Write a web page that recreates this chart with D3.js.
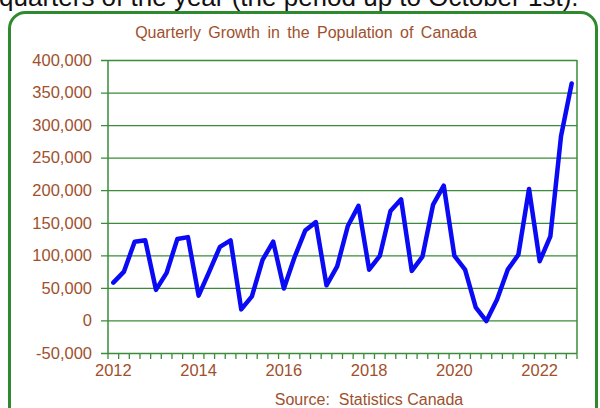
<!DOCTYPE html>
<html>
<head>
<meta charset="utf-8">
<script src="https://cdn.jsdelivr.net/npm/d3@7"></script>
<style>
  body { margin: 0; background: #fff; }
  svg { display: block; font-family: Arial, "Liberation Sans", sans-serif; }
</style>
</head>
<body>
<div id="chart"></div>
<script>
// quarterly population growth, Canada
var years = [2012, 2013, 2014, 2015, 2016, 2017, 2018, 2019, 2020, 2021, 2022];
var quarters = ["Q1", "Q2", "Q3", "Q4"];
var growth = [
  58000, 75000, 121000, 123000, 47000, 73000, 125000, 128000,
  38000, 75000, 113000, 123000, 17000, 37000, 93000, 121000,
  49000, 97000, 138000, 151000, 54000, 83000, 145000, 176000,
  78000, 99000, 168000, 186000, 76000, 98000, 178000, 207000,
  99000, 78000, 20000, -1000, 32000, 78000, 101000, 202000,
  91000, 129000, 283000, 364000
];
var yTicks = [-50000, 0, 50000, 100000, 150000, 200000, 250000, 300000, 350000, 400000];
var xTickYears = [2012, 2014, 2016, 2018, 2020, 2022];

var periods = [];
years.forEach(function (y) { quarters.forEach(function (q) { periods.push(y + " " + q); }); });
var data = growth.map(function (v, i) { return { period: periods[i], value: v }; });

var width = 600, height = 408;
var margin = { top: 60, right: 23, bottom: 55, left: 108 };
var brown = "#a0502d", green = "#3a8c3a";

var svg = d3.select("#chart").append("svg")
  .attr("width", width)
  .attr("height", height);

// page text cut off above the chart
svg.append("text")
  .attr("x", -1)
  .attr("y", 6)
  .attr("font-size", 26)
  .attr("fill", "#111")
  .text("quarters of the year (the period up to October 1st).");

svg.append("rect")
  .attr("x", 9.5)
  .attr("y", 12.5)
  .attr("width", 587)
  .attr("height", 420)
  .attr("rx", 16)
  .attr("fill", "#fff")
  .attr("stroke", "#2f8a2f")
  .attr("stroke-width", 3);

svg.append("text")
  .attr("x", 306)
  .attr("y", 38)
  .attr("text-anchor", "middle")
  .attr("font-size", 16)
  .attr("word-spacing", 3)
  .attr("fill", brown)
  .text("Quarterly Growth in the Population of Canada");

var x = d3.scaleBand()
  .domain(periods)
  .range([margin.left, width - margin.right]);

var y = d3.scaleLinear()
  .domain([-50000, 400000])
  .range([height - margin.bottom, margin.top]);

var fmt = function (d) { return d3.format(",")(d).replace("\u2212", "-"); };

// horizontal grid + y labels
var yAxis = d3.axisLeft(y)
  .tickValues(yTicks)
  .tickSize(-(width - margin.right - margin.left + 7))
  .tickPadding(9)
  .tickFormat(fmt);

var gy = svg.append("g")
  .attr("transform", "translate(" + (margin.left - 7) + ",0)")
  .call(yAxis);
gy.select(".domain").remove();
gy.selectAll("line").attr("stroke", green).attr("stroke-width", 1.3);
gy.selectAll("text")
  .attr("fill", brown)
  .attr("font-size", 16.5)
  .attr("font-family", "Arial, 'Liberation Sans', sans-serif");

// left axis line and right border of plot
svg.append("line")
  .attr("x1", margin.left).attr("x2", margin.left)
  .attr("y1", margin.top).attr("y2", height - margin.bottom)
  .attr("stroke", green).attr("stroke-width", 1.5);
svg.append("line")
  .attr("x1", width - margin.right).attr("x2", width - margin.right)
  .attr("y1", margin.top).attr("y2", height - margin.bottom)
  .attr("stroke", green).attr("stroke-width", 1.5);

// x axis: quarter ticks at band edges, year labels at Q1 centres
var bottomY = height - margin.bottom;
var edges = periods.map(function (p) { return x(p); }).concat([width - margin.right]);
svg.append("g").selectAll("line")
  .data(edges)
  .join("line")
  .attr("x1", function (d) { return d; })
  .attr("x2", function (d) { return d; })
  .attr("y1", bottomY)
  .attr("y2", bottomY + 6)
  .attr("stroke", green)
  .attr("stroke-width", 1.3);

svg.append("g").selectAll("text")
  .data(xTickYears)
  .join("text")
  .attr("x", function (d) { return x(d + " Q1") + x.bandwidth() / 2; })
  .attr("y", bottomY + 23)
  .attr("text-anchor", "middle")
  .attr("font-size", 16.5)
  .attr("fill", brown)
  .text(function (d) { return d; });

var line = d3.line()
  .x(function (d) { return x(d.period) + x.bandwidth() / 2; })
  .y(function (d) { return y(d.value); });

svg.append("path")
  .datum(data)
  .attr("d", line)
  .attr("fill", "none")
  .attr("stroke", "#0a0af5")
  .attr("stroke-width", 4.5)
  .attr("stroke-linejoin", "round")
  .attr("stroke-linecap", "round");

svg.append("text")
  .attr("x", 369)
  .attr("y", 405)
  .attr("text-anchor", "middle")
  .attr("font-size", 16)
  .attr("fill", brown)
  .attr("xml:space", "preserve")
  .text("Source:  Statistics Canada");
</script>
</body>
</html>
